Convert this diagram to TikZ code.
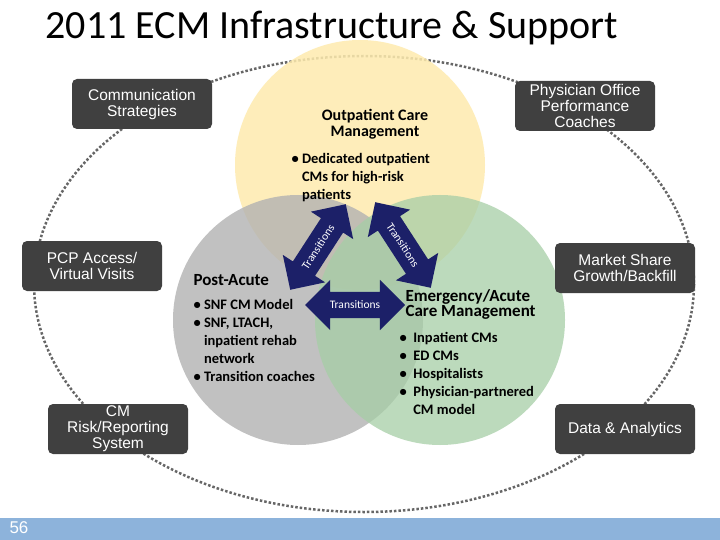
\documentclass[tikz,border=0pt]{standalone}
\usepackage{fontspec}
\setmainfont{Carlito}
\newfontfamily\arialish{Liberation Sans}
\usetikzlibrary{shapes.arrows}
\definecolor{boxgray}{HTML}{404040}
\definecolor{navy}{HTML}{1C2068}
\definecolor{barblue}{HTML}{8DB3DB}
\tikzset{
  side/.style={fill=boxgray, rounded corners=5pt, text=white, font=\arialish\fontsize{15.5}{16}\selectfont,
    align=center, minimum width=140pt, minimum height=50pt, inner sep=1pt},
  trans/.style={double arrow, fill=navy, text=white, font=\fontsize{11.5}{11.5}\selectfont,
    double arrow head extend=12pt, minimum height=100pt, inner xsep=2pt, inner ysep=9pt},
  lst/.style={anchor=north west, align=left, font=\bfseries\fontsize{14.5}{18}\selectfont}
}
\begin{document}
\begin{tikzpicture}[x=1pt,y=-1pt]
\useasboundingbox (0,0) rectangle (720,540);
\fill[white] (0,0) rectangle (720,540);
\node[anchor=west, font=\fontsize{40}{40}\selectfont] (title) at (42,28) {2011 ECM Infrastructure \& Support};
\draw[line width=2.5pt, dotted, gray!80!black] (364,284) ellipse [x radius=330, y radius=228];
\fill[yellow!55!orange!30!white, opacity=0.85] (360,165) circle (125);
\fill[gray!60, opacity=0.8] (298,320) circle (125);
\fill[green!45!black!35!white, opacity=0.75] (440,320) circle (125);
\node[side] (comm) at (142,104) {Communication\\Strategies};
\node[side] (phys) at (585,106) {Physician Office\\Performance\\Coaches};
\node[side] (pcp) at (92,266) {PCP Access/\\Virtual Visits};
\node[side] (mkt) at (625,268) {Market Share\\Growth/Backfill};
\node[side] (risk) at (118,429) {CM\\Risk/Reporting\\System};
\node[side] (data) at (625,429) {Data \& Analytics};
\node[font=\bfseries\fontsize{16}{16}\selectfont, align=center] (op) at (375,124) {Outpatient Care\\Management};
\node[lst] (opl) at (288,150) {\textbullet\ Dedicated outpatient\\\phantom{\textbullet\ }CMs for high-risk\\\phantom{\textbullet\ }patients};
\node[anchor=west, font=\bfseries\fontsize{17}{17}\selectfont] (pa) at (190,280) {Post-Acute};
\node[lst] (pal) at (190,296) {\textbullet\ SNF CM Model\\\textbullet\ SNF, LTACH,\\\phantom{\textbullet\ }inpatient rehab\\\phantom{\textbullet\ }network\\\textbullet\ Transition coaches};
\node[font=\bfseries\fontsize{17}{14}\selectfont, align=left, anchor=west] (em) at (402,304) {Emergency/Acute\\Care Management};
\node[lst] (eml) at (396,329) {\textbullet\ \ Inpatient CMs\\\textbullet\ \ ED CMs\\\textbullet\ \ Hospitalists\\\textbullet\ \ Physician-partnered\\\phantom{\textbullet\ \ }CM model};
\node[trans] (t1) at (355,305) {Transitions};
\node[trans, rotate=57, minimum height=102pt] (t2) at (318,247) {Transitions};
\node[trans, rotate=-57, minimum height=102pt] (t3) at (403,245) {Transitions};
\fill[barblue] (0,518) rectangle (720,540);
\node[anchor=west, text=white, font=\arialish\fontsize{17}{17}\selectfont] (pg) at (6,528) {56};
\end{tikzpicture}
\end{document}
